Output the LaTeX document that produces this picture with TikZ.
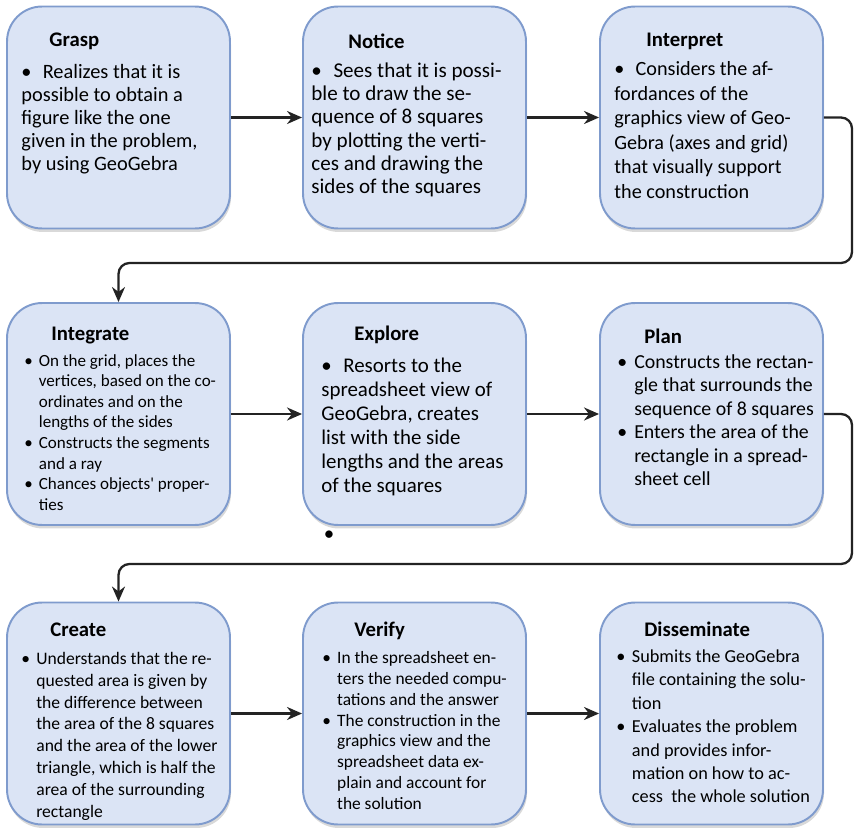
\documentclass[tikz,border=0pt]{standalone}
\usepackage{fontspec}
\setmainfont{Carlito}
\usetikzlibrary{arrows.meta,shadows}
\definecolor{stagefill}{RGB}{219,228,245}
\definecolor{stageline}{RGB}{127,155,205}
\definecolor{arrowgray}{RGB}{35,35,35}
\newcommand{\bitem}{\makebox[0.85em][l]{\textbullet}}
\newcommand{\bcont}{\hspace*{0.85em}}
\newcommand{\bfirst}{\textbullet\hspace{0.55em}}
\begin{document}
\begin{tikzpicture}[x=0.02cm, y=-0.02cm, >={Stealth[length=3mm, width=2.6mm]},
    stage/.style={draw=stageline, line width=1.1pt, fill=stagefill, rounded corners=0.7cm,
      minimum width=4.46cm, minimum height=4.44cm,
      drop shadow={shadow xshift=0.6pt, shadow yshift=-2pt, opacity=0.3}},
    stagehead/.style={anchor=west, inner sep=0pt, font=\bfseries\fontsize{11.8}{14}\selectfont},
    stagetext/.style 2 args={anchor=north west, inner sep=0pt, align=left, font=\fontsize{#1}{#2}\selectfont},
    flow/.style={->, line width=1.3pt, draw=arrowgray}]
  \useasboundingbox (0,0) rectangle (856,828);
  % the nine stages
  \node[stage] (grasp) at (118.5,117.5) {};
  \node[stage] (notice) at (414.5,117.5) {};
  \node[stage] (interpret) at (711.5,117.5) {};
  \node[stage] (integrate) at (118.5,414) {};
  \node[stage] (explore) at (414.5,414) {};
  \node[stage] (plan) at (711.5,414) {};
  \node[stage] (create) at (118.5,713.5) {};
  \node[stage] (verify) at (414.5,713.5) {};
  \node[stage] (disseminate) at (711.5,713.5) {};
  % first row
  \node[stagehead] (grasp-head) at ([shift={(43,36)}]grasp.north west) {Grasp};
  \node[stagetext={11.6}{13.2}] (grasp-text) at ([shift={(15,58)}]grasp.north west)
    {\bfirst Realizes that it is\\possible to obtain a\\figure like the one\\given in the problem,\\by using GeoGebra};
  \node[stagehead] (notice-head) at ([shift={(46,36)}]notice.north west) {Notice};
  \node[stagetext={12}{13.2}] (notice-text) at ([shift={(9,57)}]notice.north west)
    {\bfirst Sees that it is possi-\\ble to draw the se-\\quence of 8 squares\\by plotting the verti-\\ces and drawing the\\sides of the squares};
  \node[stagehead] (interpret-head) at ([shift={(47,36)}]interpret.north west) {Interpret};
  \node[stagetext={11.5}{13.9}] (interpret-text) at ([shift={(15,56)}]interpret.north west)
    {\bfirst Considers the af-\\fordances of the\\graphics view of Geo-\\Gebra (axes and grid)\\that visually support\\the construction};
  % second row
  \node[stagehead] (integrate-head) at ([shift={(45,33)}]integrate.north west) {Integrate};
  \node[stagetext={9.7}{11.7}] (integrate-text) at ([shift={(18,52)}]integrate.north west)
    {\bitem On the grid, places the\\\bcont vertices, based on the co-\\\bcont ordinates and on the\\\bcont lengths of the sides\\
     \bitem Constructs the segments\\\bcont and a ray\\
     \bitem Chances objects\textquotesingle{} proper-\\\bcont ties};
  \node[stagehead] (explore-head) at ([shift={(52,33)}]explore.north west) {Explore};
  \node[stagetext={11.9}{13.6}] (explore-text) at ([shift={(19,56)}]explore.north west)
    {\bfirst Resorts to the\\spreadsheet view of\\GeoGebra, creates\\list with the side\\lengths and the areas\\of the squares};
  \node[stagehead] (plan-head) at ([shift={(45,34)}]plan.north west) {Plan};
  \node[stagetext={11.3}{13.4}] (plan-text) at ([shift={(18,52)}]plan.north west)
    {\bitem Constructs the rectan-\\\bcont gle that surrounds the\\\bcont sequence of 8 squares\\
     \bitem Enters the area of the\\\bcont rectangle in a spread-\\\bcont sheet cell};
  \node (dot) at (329,536) {\fontsize{11.9}{13.6}\selectfont\textbullet};
  % third row
  \node[stagehead] (create-head) at ([shift={(44,28)}]create.north west) {Create};
  \node[stagetext={10}{12.5}] (create-text) at ([shift={(15,50)}]create.north west)
    {\bitem Understands that the re-\\\bcont quested area is given by\\\bcont the difference between\\\bcont the area of the 8 squares\\
     \bcont and the area of the lower\\\bcont triangle, which is half the\\\bcont area of the surrounding\\\bcont rectangle};
  \node[stagehead] (verify-head) at ([shift={(52,29)}]verify.north west) {Verify};
  \node[stagetext={9.9}{11.8}] (verify-text) at ([shift={(20,50)}]verify.north west)
    {\bitem In the spreadsheet en-\\\bcont ters the needed compu-\\\bcont tations and the answer\\
     \bitem The construction in the\\\bcont graphics view and the\\\bcont spreadsheet data ex-\\\bcont plain and account for\\\bcont the solution};
  \node[stagehead] (disseminate-head) at ([shift={(45,28)}]disseminate.north west) {Disseminate};
  \node[stagetext={10.4}{13.3}] (disseminate-text) at ([shift={(17,48)}]disseminate.north west)
    {\bitem Submits the GeoGebra\\\bcont file containing the solu-\\\bcont tion\\
     \bitem Evaluates the problem\\\bcont and provides infor-\\\bcont mation on how to ac-\\\bcont cess\ \ the whole solution};
  % connectors
  \coordinate (wrap1) at (852,263);
  \coordinate (wrap2) at (852,564);
  \draw[flow] (grasp.east) -- (notice.west);
  \draw[flow] (notice.east) -- (interpret.west);
  \draw[flow, rounded corners=0.22cm] (interpret.east) -| (wrap1) -| (integrate.north);
  \draw[flow] (integrate.east) -- (explore.west);
  \draw[flow] (explore.east) -- (plan.west);
  \draw[flow, rounded corners=0.22cm] (plan.east) -| (wrap2) -| (create.north);
  \draw[flow] (create.east) -- (verify.west);
  \draw[flow] (verify.east) -- (disseminate.west);
\end{tikzpicture}
\end{document}
